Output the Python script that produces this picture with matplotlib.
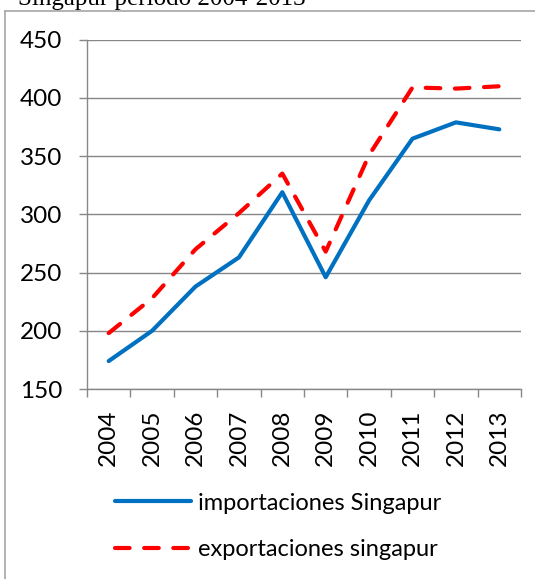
import matplotlib
matplotlib.use("Agg")
import matplotlib.pyplot as plt
from matplotlib.lines import Line2D

years = ["2004", "2005", "2006", "2007", "2008", "2009", "2010", "2011", "2012", "2013"]
importaciones = [174, 200, 238, 263, 319, 246, 312, 365, 379, 373]
exportaciones = [198, 228, 270, 301, 335, 268, 351, 409, 408, 410]
y_ticks = [150, 200, 250, 300, 350, 400, 450]

W, H = 535, 579
plt.rcParams['font.family'] = ['Lato', 'DejaVu Sans']

fig = plt.figure(figsize=(W / 100, H / 100), dpi=100)
ax = fig.add_axes([87 / W, 1 - 389 / H, (521 - 87) / W, (389 - 39.7) / H])

grid_col = "#878787"
x = list(range(len(years)))
ax.plot(x, importaciones, color="#0070C0", lw=3, solid_joinstyle="round",
        solid_capstyle="round", label="importaciones Singapur")
ax.plot(x, exportaciones, color="#FF0000", lw=3, dashes=(3.5, 3.5),
        dash_capstyle="round", dash_joinstyle="round", label="exportaciones singapur")

ax.set_xlim(-0.5, len(years) - 0.5)
ax.set_ylim(150, 450)
ax.set_yticks(y_ticks)
ax.set_xticks(x)
ax.set_xticklabels(years, rotation=90)
ax.set_xticks([i - 0.5 for i in range(len(years) + 1)], minor=True)
ax.tick_params(axis="x", which="major", length=0, pad=15, labelsize=17.5)
ax.tick_params(axis="x", which="minor", length=6, width=1, color=grid_col)
ax.tick_params(axis="y", length=6, width=1, color=grid_col, pad=12, labelsize=17.5)
ax.yaxis.grid(True, color=grid_col, lw=1)
ax.set_axisbelow(True)
for s in ["top", "right"]:
    ax.spines[s].set_visible(False)
for s in ["left", "bottom"]:
    ax.spines[s].set_color(grid_col)
    ax.spines[s].set_linewidth(1)

fig.legend(loc="center left", bbox_to_anchor=(115 / W, 1 - 526.5 / H),
           frameon=False, fontsize=17, handlelength=3.2, handletextpad=0.3,
           labelspacing=1.1, borderpad=0, borderaxespad=0)

# chart frame (only left and top edges are visible in the crop)
frame_col = "#A6A6A6"
fig.add_artist(Line2D([4.5 / W, 4.5 / W], [0, 1 - 10.5 / H], color=frame_col, lw=1.2,
                      transform=fig.transFigure))
fig.add_artist(Line2D([4.5 / W, 1], [1 - 10.5 / H, 1 - 10.5 / H], color=frame_col, lw=1.2,
                      transform=fig.transFigure))

# title of the document sits above the chart and is cut by the crop
fig.text(18 / W, 1 - 5 / H, "Singapur periodo 2004-2013", family="Liberation Serif",
         fontsize=18, va="baseline", ha="left")

fig.savefig("out.png", dpi=100)
